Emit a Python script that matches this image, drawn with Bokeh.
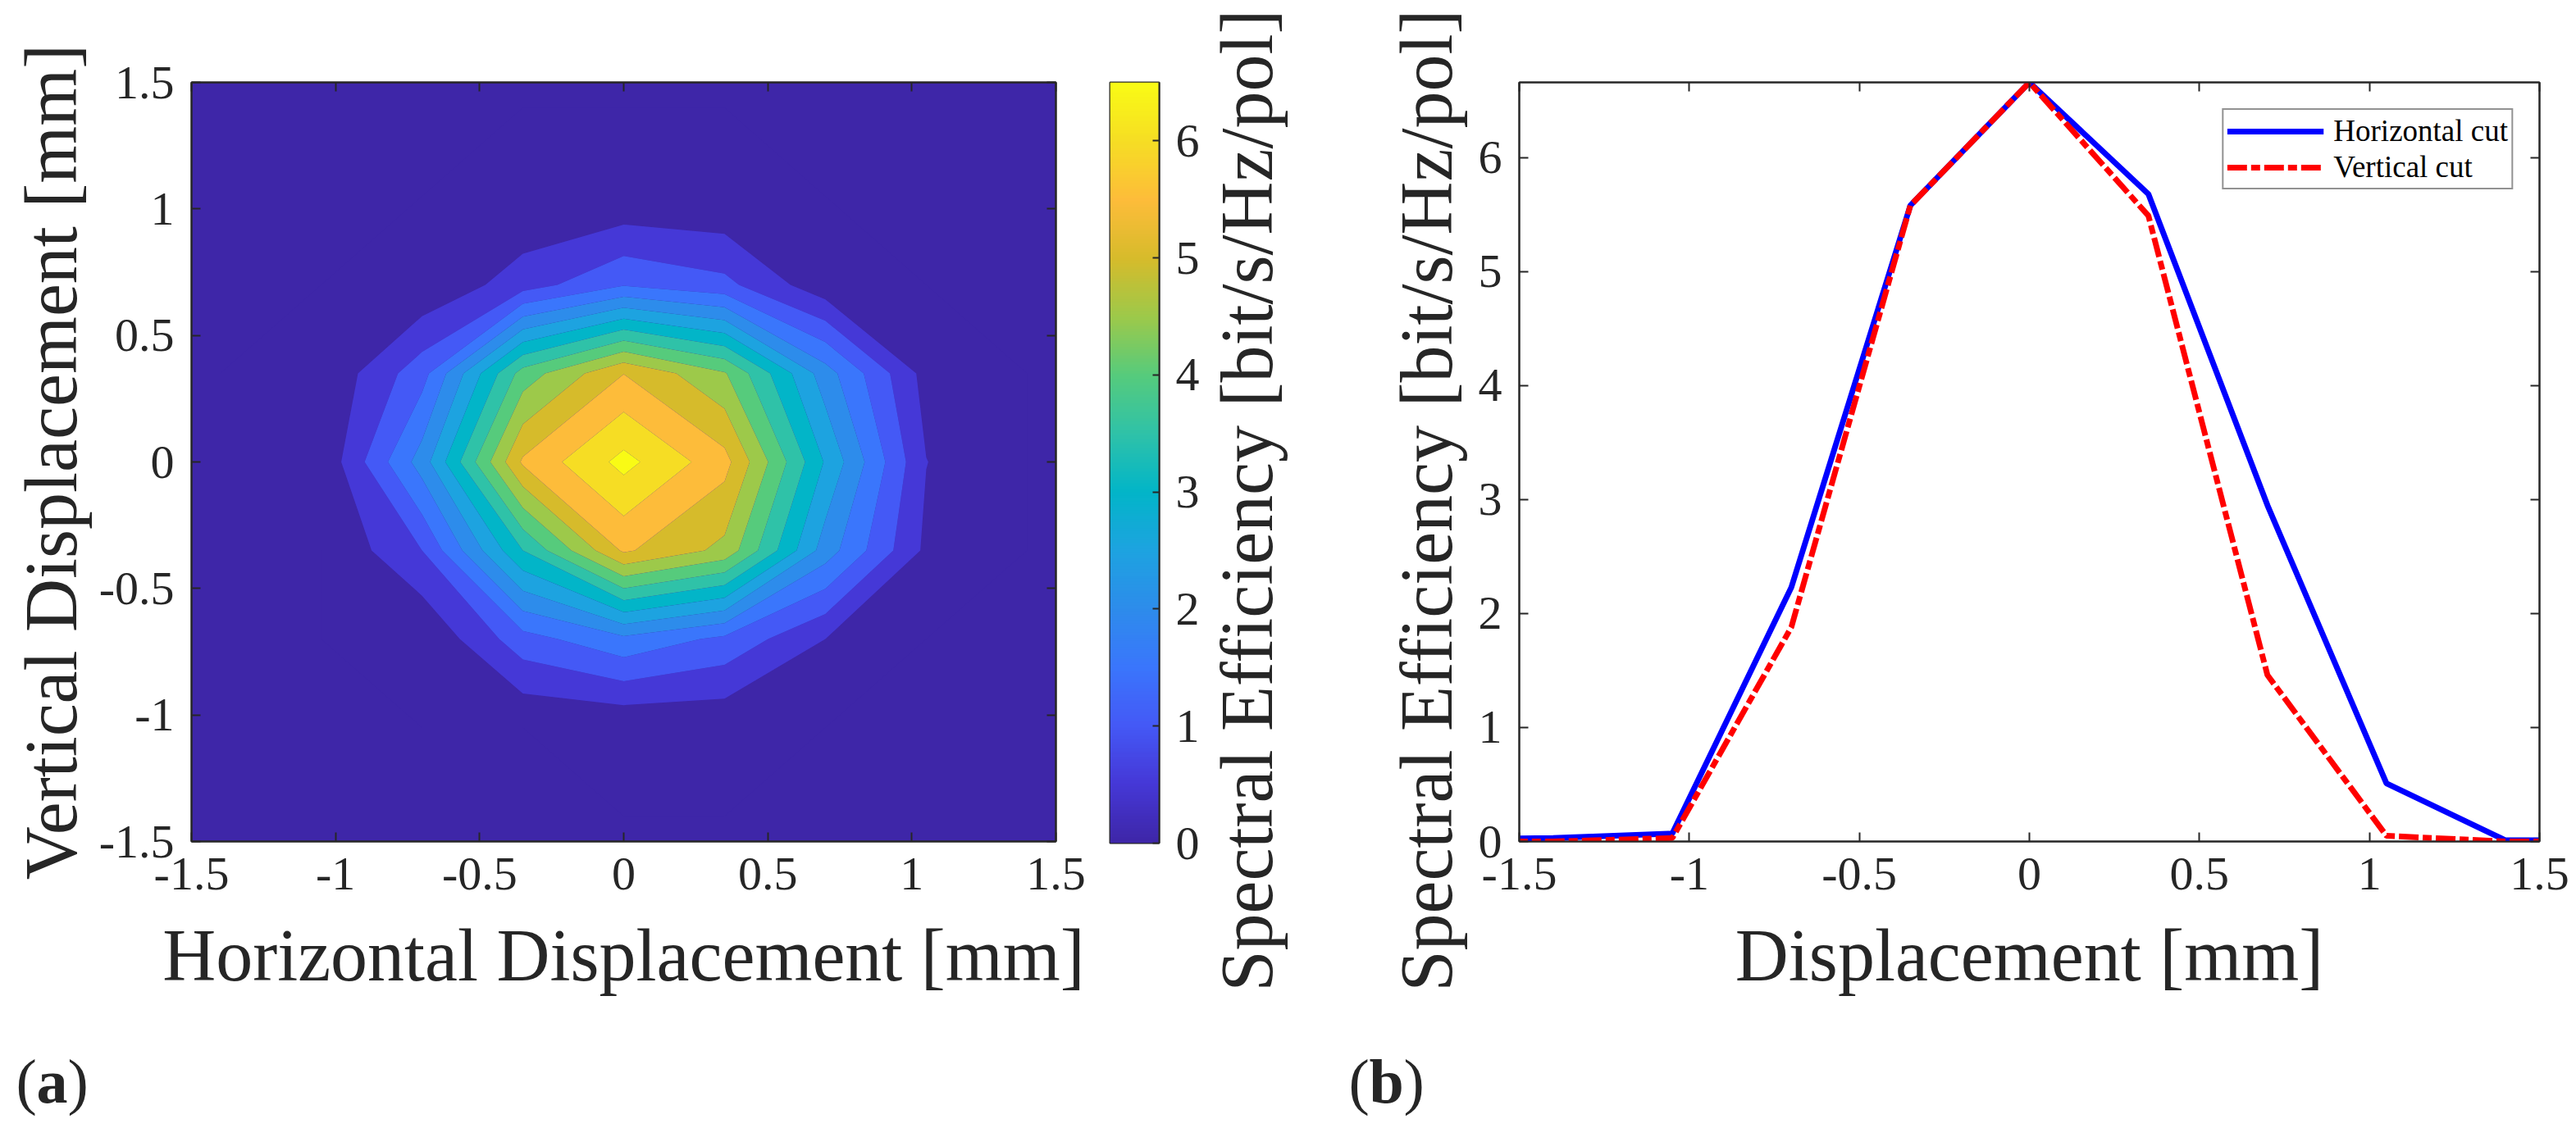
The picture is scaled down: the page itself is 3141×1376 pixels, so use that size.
import math
import numpy as np
from bokeh.plotting import figure
from bokeh.models import (Range1d, LinearAxis, FixedTicker, CustomJSTickFormatter,
                          LinearColorMapper, Legend, LegendItem)
from bokeh.core.properties import value
from bokeh.layouts import row, column
from bokeh.embed import file_html
from bokeh.resources import INLINE

# ---------------- data ----------------
# map grid (mm)
grid_x = [-1.4, -1.05, -0.7, -0.35, 0.0, 0.35, 0.7, 1.05, 1.4]
grid_y = [-1.4, -1.05, -0.7, -0.35, 0.0, 0.35, 0.7, 1.05, 1.4]
# spectral efficiency [bit/s/Hz/pol], one list per grid row (y from -1.4 to 1.4)
se_y_m140 = [0.00, 0.00, 0.00, 0.00, 0.00, 0.00, 0.00, 0.00, 0.00]
se_y_m105 = [0.00, 0.00, 0.00, 0.00, 0.03, 0.07, 0.00, 0.00, 0.00]
se_y_m070 = [0.00, 0.00, 0.02, 1.30, 1.88, 1.38, 0.50, 0.00, 0.00]
se_y_m035 = [0.00, 0.00, 1.00, 3.50, 5.58, 4.86, 2.26, 0.39, 0.00]
se_y_000 = [0.03, 0.07, 2.23, 5.58, 6.66, 5.68, 2.95, 0.51, 0.01]
se_y_p035 = [0.00, 0.04, 1.30, 4.22, 5.49, 4.55, 2.23, 0.31, 0.00]
se_y_p070 = [0.00, 0.00, 0.06, 0.76, 1.46, 1.14, 0.16, 0.00, 0.00]
se_y_p105 = [0.00, 0.00, 0.00, 0.02, 0.05, 0.03, 0.00, 0.00, 0.00]
se_y_p140 = [0.00, 0.00, 0.00, 0.00, 0.00, 0.00, 0.00, 0.00, 0.00]

se_levels = [0.0, 0.5, 1.0, 1.5, 2.0, 2.5, 3.0, 3.5, 4.0, 4.5, 5.0, 5.5, 6.0, 6.5, 7.0]
band_colors = ["#3E26A8", "#4538D7", "#4459F6", "#3A76FC", "#2D8CEB", "#1DA3E0", "#02B5C8",
               "#2FC2A8", "#56CB7C", "#9DC94A", "#D6BB2B", "#FDBC3A", "#F6DD24", "#F9FB15"]

# cuts
cut_x = [-1.75, -1.4, -1.05, -0.7, -0.35, 0.0, 0.35, 0.7, 1.05, 1.4, 1.75]
horizontal_cut = [0.02, 0.03, 0.07, 2.23, 5.58, 6.66, 5.68, 2.95, 0.51, 0.01, 0.01]
vertical_cut = [0.00, 0.00, 0.03, 1.88, 5.58, 6.66, 5.49, 1.46, 0.05, 0.00, 0.00]

xy_ticks = [-1.5, -1, -0.5, 0, 0.5, 1, 1.5]
se_ticks = [0, 1, 2, 3, 4, 5, 6]
cb_max = 6.5
se_max = 6.66

# ---------------- style ----------------
TXT = "#262626"
FONT = "Liberation Serif"
TICK_FS = "58px"
LAB_FS = "90px"
H1 = 1278      # height of the plot row
HB = 94        # height of the panel-letter row

fmt = CustomJSTickFormatter(code="return tick.toString();")


def no_align(p):
    if "frame_align" in p.properties():
        p.frame_align = False


def style_axis(ax, ticks, standoff, labels=True, tick_in=11):
    ax.ticker = FixedTicker(ticks=ticks)
    ax.formatter = fmt
    ax.axis_line_color = TXT
    ax.axis_line_width = 2
    ax.major_tick_line_color = TXT
    ax.major_tick_line_width = 2
    ax.major_tick_in = tick_in
    ax.major_tick_out = 0
    ax.minor_tick_line_color = None
    ax.major_label_text_font = FONT
    ax.major_label_text_font_size = TICK_FS if labels else "1px"
    ax.major_label_text_color = TXT if labels else None
    ax.major_label_standoff = standoff if labels else 0
    ax.axis_label_text_font = FONT
    ax.axis_label_text_font_size = LAB_FS
    ax.axis_label_text_font_style = "normal"
    ax.axis_label_text_color = TXT


def frame_style(p):
    p.grid.visible = False
    p.outline_line_color = TXT
    p.outline_line_width = 2
    p.border_fill_color = "white"
    no_align(p)


def holder(width, height):
    h = figure(width=width, height=height, x_range=Range1d(0, width), y_range=Range1d(0, height),
               output_backend="svg", toolbar_location=None,
               x_axis_location=None, y_axis_location=None,
               min_border_left=0, min_border_right=0, min_border_top=0, min_border_bottom=0)
    h.grid.visible = False
    h.outline_line_color = None
    h.background_fill_color = "white"
    h.border_fill_color = "white"
    no_align(h)
    return h


# ---------------- (a) map ----------------
p1 = figure(width=1340, height=H1, x_range=Range1d(-1.5, 1.5), y_range=Range1d(-1.5, 1.5),
            output_backend="svg", toolbar_location=None,
            min_border_left=233, min_border_right=53, min_border_top=100, min_border_bottom=252)
frame_style(p1)
p1.background_fill_color = band_colors[0]
se_grid = np.array([se_y_m140, se_y_m105, se_y_m070, se_y_m035, se_y_000,
                    se_y_p035, se_y_p070, se_y_p105, se_y_p140])
p1.contour(x=grid_x, y=grid_y, z=se_grid, levels=se_levels, fill_color=band_colors, line_color=None)
style_axis(p1.xaxis[0], xy_ticks, 20)
style_axis(p1.yaxis[0], xy_ticks, 21)
p1.xaxis[0].axis_label = "Horizontal Displacement [mm]"
p1.xaxis[0].axis_label_standoff = 28
p1.yaxis[0].axis_label = "Vertical Displacement [mm]"
p1.yaxis[0].axis_label_standoff = 6
for side in ("above", "right"):
    ax = LinearAxis()
    style_axis(ax, xy_ticks, 0, labels=False)
    p1.add_layout(ax, side)

# ---------------- colour bar ----------------
def hex2rgb(h):
    return [int(h[i:i + 2], 16) for i in (1, 3, 5)]

anchors = np.array([hex2rgb(c) for c in band_colors], dtype=float)
anchor_t = np.linspace(0, 1, len(band_colors))
palette = []
for t in np.linspace(0, 1, 256):
    rgb = [int(round(np.interp(t, anchor_t, anchors[:, k]))) for k in range(3)]
    palette.append("#%02X%02X%02X" % tuple(rgb))
cmap = LinearColorMapper(palette=palette, low=0, high=cb_max)

pc = figure(width=125, height=H1, x_range=Range1d(0, 1), y_range=Range1d(0, cb_max),
            output_backend="svg", toolbar_location=None,
            x_axis_location=None, y_axis_location=None,
            min_border_left=13, min_border_right=52, min_border_top=100, min_border_bottom=250)
frame_style(pc)
ramp = np.linspace(0, cb_max, 512).reshape(-1, 1)
pc.image(image=[ramp], x=0, y=0, dw=1, dh=cb_max, color_mapper=cmap)
cax = LinearAxis()
style_axis(cax, se_ticks, 20, tick_in=8)
pc.add_layout(cax, "right")

# ---------------- vertical labels between the panels ----------------
pm = holder(330, H1)
pm.text(x=[55, 274], y=[H1 - 610, H1 - 610],
        text=["Spectral Efficiency [bit/s/Hz/pol]", "Spectral Efficiency [bit/s/Hz/pol]"],
        angle=math.pi / 2, text_align="center", text_baseline="middle",
        text_font=value(FONT), text_font_size=LAB_FS, text_color=TXT)

# ---------------- (b) cuts ----------------
p2 = figure(width=1345, height=H1, x_range=Range1d(-1.5, 1.5), y_range=Range1d(0, se_max),
            output_backend="svg", toolbar_location=None,
            min_border_left=57, min_border_right=44, min_border_top=100, min_border_bottom=252)
frame_style(p2)
style_axis(p2.xaxis[0], xy_ticks, 20)
style_axis(p2.yaxis[0], se_ticks, 21)
p2.xaxis[0].axis_label = "Displacement [mm]"
p2.xaxis[0].axis_label_standoff = 28
ax = LinearAxis()
style_axis(ax, xy_ticks, 0, labels=False)
p2.add_layout(ax, "above")
ax = LinearAxis()
style_axis(ax, se_ticks, 0, labels=False)
p2.add_layout(ax, "right")

r_h = p2.line(cut_x, horizontal_cut, line_color="#0000FF", line_width=7)
r_v = p2.line(cut_x, vertical_cut, line_color="#FF0000", line_width=7, line_dash="24 5 11 5")
legend = Legend(items=[LegendItem(label="Horizontal cut", renderers=[r_h]),
                       LegendItem(label="Vertical cut", renderers=[r_v])],
                location="top_right", margin=32, padding=4, spacing=1,
                label_height=30, glyph_height=30, glyph_width=118, label_standoff=12,
                label_text_font=FONT, label_text_font_size="37px", label_text_color="#000000",
                border_line_color=TXT, border_line_width=2,
                background_fill_color="white", background_fill_alpha=1.0)
p2.add_layout(legend)

# ---------------- panel letters ----------------
pb = holder(3140, HB)
mid = HB - (1318 - H1)
pb.text(x=[19, 1644], y=[mid, mid], text=["(", "("], text_align="left", text_baseline="middle",
        text_font=value(FONT), text_font_size="76px", text_color=TXT)
pb.text(x=[44, 1669], y=[mid, mid], text=["a", "b"], text_align="left", text_baseline="middle",
        text_font=value(FONT), text_font_size="76px", text_font_style="bold", text_color=TXT)
pb.text(x=[82, 1711], y=[mid, mid], text=[")", ")"], text_align="left", text_baseline="middle",
        text_font=value(FONT), text_font_size="76px", text_color=TXT)

layout = column(row(p1, pc, pm, p2), pb)
open("out.html", "w").write(file_html(layout, INLINE))
